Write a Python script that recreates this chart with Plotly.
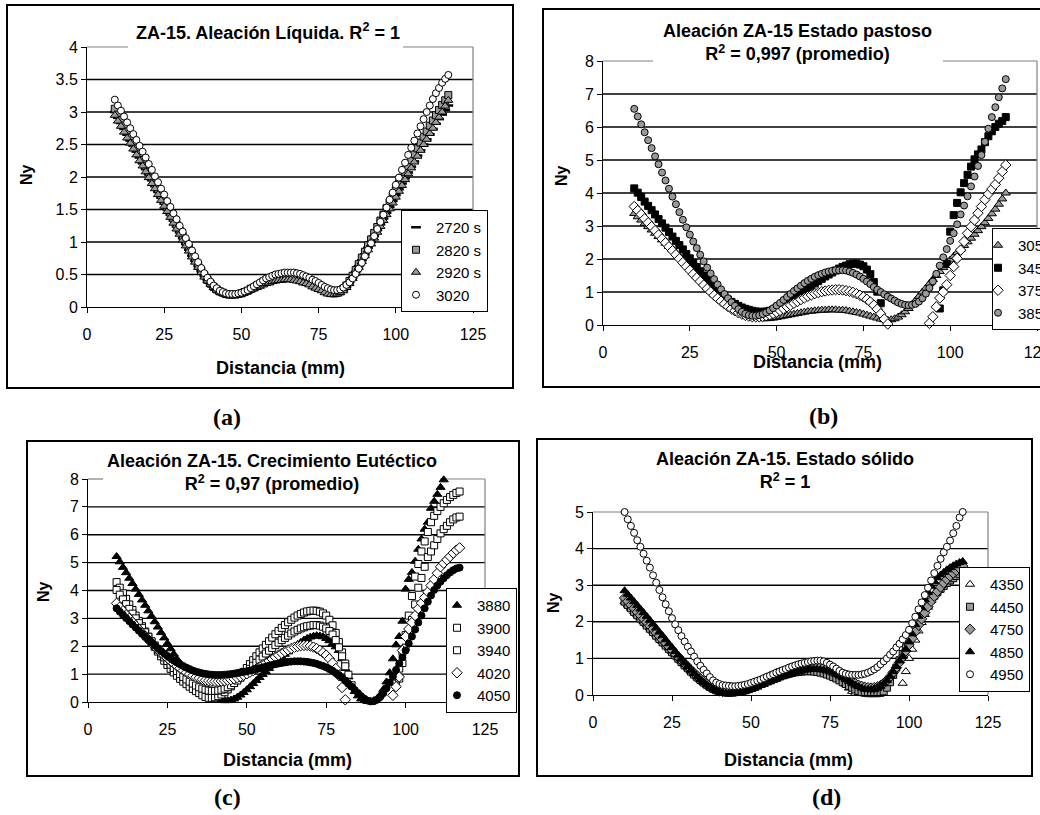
import plotly.graph_objects as go

W, H = 1040, 815
FONT = "Liberation Sans, Arial, sans-serif"
SERIF = "Liberation Serif, Times New Roman, serif"

# ---------------- data ----------------
X_TICKS = [0, 25, 50, 75, 100, 125]
Y_TICKS_A = [0, 0.5, 1, 1.5, 2, 2.5, 3, 3.5, 4]
Y_TICKS_B = [0, 1, 2, 3, 4, 5, 6, 7, 8]
Y_TICKS_C = [0, 1, 2, 3, 4, 5, 6, 7, 8]
Y_TICKS_D = [0, 1, 2, 3, 4, 5]

X_A = [9, 10, 11, 12, 13, 14, 15, 16, 17, 18, 19, 20, 21, 22, 23, 24, 25, 26, 27, 28,
       29, 30, 31, 32, 33, 34, 35, 36, 37, 38, 39, 40, 41, 42, 43, 44, 45, 46, 47, 48,
       49, 50, 51, 52, 53, 54, 55, 56, 57, 58, 59, 60, 61, 62, 63, 64, 65, 66, 67, 68,
       69, 70, 71, 72, 73, 74, 75, 76, 77, 78, 79, 80, 81, 82, 83, 84, 85, 86, 87, 88,
       89, 90, 91, 92, 93, 94, 95, 96, 97, 98, 99, 100, 101, 102, 103, 104, 105, 106, 107, 108,
       109, 110, 111, 112, 113, 114, 115, 116, 117]
X_B = [9, 10, 11, 12, 13, 14, 15, 16, 17, 18, 19, 20, 21, 22, 23, 24, 25, 26, 27, 28,
       29, 30, 31, 32, 33, 34, 35, 36, 37, 38, 39, 40, 41, 42, 43, 44, 45, 46, 47, 48,
       49, 50, 51, 52, 53, 54, 55, 56, 57, 58, 59, 60, 61, 62, 63, 64, 65, 66, 67, 68,
       69, 70, 71, 72, 73, 74, 75, 76, 77, 78, 79, 80, 81, 82, 83, 84, 85, 86, 87, 88,
       89, 90, 91, 92, 93, 94, 95, 96, 97, 98, 99, 100, 101, 102, 103, 104, 105, 106, 107, 108,
       109, 110, 111, 112, 113, 114, 115, 116]
X_C = X_A
X_D = [10, 11, 12, 13, 14, 15, 16, 17, 18, 19, 20, 21, 22, 23, 24, 25, 26, 27, 28, 29,
       30, 31, 32, 33, 34, 35, 36, 37, 38, 39, 40, 41, 42, 43, 44, 45, 46, 47, 48, 49,
       50, 51, 52, 53, 54, 55, 56, 57, 58, 59, 60, 61, 62, 63, 64, 65, 66, 67, 68, 69,
       70, 71, 72, 73, 74, 75, 76, 77, 78, 79, 80, 81, 82, 83, 84, 85, 86, 87, 88, 89,
       90, 91, 92, 93, 94, 95, 96, 97, 98, 99, 100, 101, 102, 103, 104, 105, 106, 107, 108, 109,
       110, 111, 112, 113, 114, 115, 116, 117]

N = None

# (a) liquid alloy
A_2720 = [3.00, 2.91, 2.83, 2.74, 2.65, 2.56, 2.48, 2.39, 2.30, 2.21,
          2.12, 2.04, 1.95, 1.86, 1.77, 1.68, 1.59, 1.50, 1.42, 1.33,
          1.24, 1.15, 1.06, 0.97, 0.88, 0.79, 0.71, 0.63, 0.55, 0.48,
          0.41, 0.36, 0.31, 0.27, 0.24, 0.21, 0.20, 0.19, 0.18, 0.19,
          0.19, 0.21, 0.22, 0.24, 0.27, 0.29, 0.31, 0.34, 0.36, 0.38,
          0.39, 0.41, 0.42, 0.43, 0.44, 0.45, 0.45, 0.45, 0.44, 0.43,
          0.42, 0.40, 0.38, 0.36, 0.33, 0.31, 0.28, 0.26, 0.24, 0.22,
          0.20, 0.20, 0.21, 0.23, 0.26, 0.31, 0.38, 0.45, 0.54, 0.63,
          0.72, 0.81, 0.91, 1.00, 1.09, 1.18, 1.27, 1.36, 1.45, 1.54,
          1.63, 1.72, 1.81, 1.90, 1.98, 2.07, 2.16, 2.24, 2.33, 2.41,
          2.50, 2.58, 2.66, 2.74, 2.82, 2.89, 2.96, 3.03, 3.10]
A_2820 = [3.05, 2.96, 2.88, 2.79, 2.70, 2.61, 2.52, 2.44, 2.35, 2.26,
          2.17, 2.08, 1.99, 1.90, 1.81, 1.72, 1.63, 1.54, 1.45, 1.36,
          1.27, 1.18, 1.09, 1.00, 0.91, 0.82, 0.73, 0.64, 0.56, 0.49,
          0.42, 0.36, 0.31, 0.27, 0.24, 0.22, 0.20, 0.19, 0.19, 0.19,
          0.20, 0.21, 0.23, 0.25, 0.28, 0.30, 0.33, 0.35, 0.38, 0.40,
          0.42, 0.44, 0.45, 0.46, 0.47, 0.48, 0.48, 0.48, 0.47, 0.46,
          0.45, 0.43, 0.41, 0.38, 0.36, 0.33, 0.31, 0.28, 0.26, 0.24,
          0.22, 0.21, 0.22, 0.24, 0.28, 0.33, 0.40, 0.48, 0.57, 0.66,
          0.76, 0.85, 0.95, 1.04, 1.14, 1.23, 1.33, 1.42, 1.52, 1.61,
          1.71, 1.80, 1.90, 1.99, 2.08, 2.17, 2.26, 2.35, 2.44, 2.53,
          2.62, 2.70, 2.79, 2.87, 2.95, 3.03, 3.11, 3.18, 3.26]
A_2920 = [2.95, 2.86, 2.78, 2.69, 2.60, 2.52, 2.43, 2.34, 2.25, 2.17,
          2.08, 1.99, 1.90, 1.82, 1.73, 1.64, 1.55, 1.47, 1.38, 1.29,
          1.20, 1.12, 1.03, 0.94, 0.86, 0.77, 0.69, 0.61, 0.53, 0.46,
          0.40, 0.35, 0.30, 0.26, 0.23, 0.21, 0.19, 0.18, 0.18, 0.18,
          0.19, 0.20, 0.22, 0.24, 0.26, 0.28, 0.30, 0.32, 0.34, 0.36,
          0.37, 0.39, 0.40, 0.41, 0.41, 0.42, 0.42, 0.42, 0.41, 0.40,
          0.39, 0.37, 0.36, 0.34, 0.31, 0.29, 0.27, 0.25, 0.22, 0.20,
          0.19, 0.19, 0.20, 0.22, 0.25, 0.30, 0.36, 0.44, 0.52, 0.61,
          0.70, 0.79, 0.88, 0.97, 1.06, 1.15, 1.24, 1.33, 1.42, 1.51,
          1.60, 1.69, 1.78, 1.87, 1.96, 2.05, 2.14, 2.23, 2.32, 2.41,
          2.50, 2.58, 2.67, 2.75, 2.84, 2.92, 3.00, 3.09, 3.18]
A_3020 = [3.19, 3.10, 3.02, 2.93, 2.84, 2.75, 2.66, 2.57, 2.48, 2.39,
          2.30, 2.20, 2.11, 2.01, 1.92, 1.82, 1.73, 1.63, 1.54, 1.44,
          1.35, 1.25, 1.16, 1.06, 0.97, 0.87, 0.78, 0.69, 0.60, 0.52,
          0.45, 0.39, 0.33, 0.29, 0.25, 0.23, 0.21, 0.20, 0.20, 0.20,
          0.21, 0.22, 0.24, 0.26, 0.29, 0.32, 0.35, 0.38, 0.41, 0.44,
          0.46, 0.48, 0.50, 0.51, 0.52, 0.53, 0.53, 0.53, 0.53, 0.52,
          0.51, 0.49, 0.47, 0.45, 0.42, 0.40, 0.37, 0.34, 0.31, 0.29,
          0.27, 0.26, 0.26, 0.27, 0.30, 0.34, 0.38, 0.44, 0.51, 0.59,
          0.68, 0.78, 0.88, 0.98, 1.09, 1.20, 1.31, 1.42, 1.53, 1.65,
          1.76, 1.88, 1.99, 2.11, 2.22, 2.34, 2.45, 2.56, 2.67, 2.78,
          2.89, 3.00, 3.10, 3.20, 3.29, 3.37, 3.45, 3.51, 3.57]

# (b) mushy state
B_3050 = [3.38, 3.28, 3.18, 3.08, 2.98, 2.88, 2.78, 2.68, 2.58, 2.48,
          2.38, 2.28, 2.18, 2.08, 1.98, 1.88, 1.78, 1.67, 1.56, 1.45,
          1.34, 1.23, 1.12, 1.01, 0.90, 0.80, 0.71, 0.62, 0.54, 0.47,
          0.41, 0.36, 0.31, 0.27, 0.24, 0.22, 0.20, 0.19, 0.19, 0.20,
          0.21, 0.23, 0.25, 0.27, 0.29, 0.31, 0.33, 0.35, 0.37, 0.39,
          0.41, 0.42, 0.43, 0.44, 0.45, 0.45, 0.46, 0.46, 0.46, 0.45,
          0.45, 0.44, 0.42, 0.40, 0.38, 0.36, 0.33, 0.30, 0.27, 0.24,
          0.21, 0.18, 0.16, 0.15, 0.16, 0.19, 0.24, 0.31, 0.40, 0.50,
          0.62, 0.74, 0.87, 1.00, 1.12, 1.25, 1.38, 1.50, 1.62, 1.74,
          1.86, 1.97, 2.08, 2.19, 2.30, 2.41, 2.52, 2.63, 2.75, 2.86,
          2.98, 3.10, 3.23, 3.37, 3.51, 3.66, 3.82, 4.00]
B_3450 = [4.14, 4.01, 3.88, 3.74, 3.61, 3.48, 3.35, 3.21, 3.08, 2.95,
          2.82, 2.68, 2.55, 2.42, 2.29, 2.15, 2.02, 1.89, 1.76, 1.63,
          1.50, 1.38, 1.26, 1.15, 1.04, 0.94, 0.85, 0.77, 0.70, 0.64,
          0.58, 0.53, 0.49, 0.46, 0.43, 0.41, 0.40, 0.40, 0.41, 0.43,
          0.46, 0.50, 0.55, 0.61, 0.68, 0.75, 0.82, 0.90, 0.97, 1.05,
          1.12, 1.19, 1.26, 1.33, 1.40, 1.47, 1.53, 1.59, 1.65, 1.71,
          1.76, 1.80, 1.84, 1.86, 1.86, 1.83, 1.78, 1.68, 1.54, 1.30,
          1.01, 0.66, N, N, N, N, N, N, N, N,
          N, N, N, N, N, N, N, N, 0.50, 1.05,
          1.85, 2.83, 3.33, 3.70, 4.02, 4.30, 4.55, 4.80, 5.02, 5.17,
          5.32, 5.54, 5.72, 5.87, 6.00, 6.10, 6.18, 6.30]
B_3750 = [3.59, 3.47, 3.35, 3.22, 3.10, 2.98, 2.86, 2.73, 2.61, 2.49,
          2.37, 2.25, 2.13, 2.01, 1.89, 1.77, 1.66, 1.54, 1.43, 1.32,
          1.21, 1.10, 1.00, 0.90, 0.81, 0.72, 0.64, 0.56, 0.49, 0.43,
          0.37, 0.33, 0.29, 0.27, 0.25, 0.25, 0.25, 0.26, 0.28, 0.31,
          0.35, 0.39, 0.44, 0.49, 0.55, 0.60, 0.66, 0.71, 0.77, 0.82,
          0.87, 0.91, 0.95, 0.98, 1.01, 1.03, 1.05, 1.06, 1.07, 1.07,
          1.06, 1.04, 1.02, 0.99, 0.95, 0.90, 0.85, 0.78, 0.70, 0.60,
          0.48, 0.34, 0.18, 0.03, N, N, N, N, N, N,
          N, N, N, N, N, 0.05, 0.25, 0.55, 0.82, 1.00,
          1.22, 1.50, 1.77, 2.02, 2.27, 2.53, 2.78, 2.98, 3.18, 3.39,
          3.59, 3.80, 3.97, 4.12, 4.26, 4.45, 4.65, 4.85]
B_3850 = [6.55, 6.32, 6.08, 5.84, 5.60, 5.36, 5.11, 4.87, 4.62, 4.38,
          4.13, 3.89, 3.66, 3.42, 3.19, 2.96, 2.74, 2.53, 2.33, 2.13,
          1.93, 1.74, 1.56, 1.39, 1.23, 1.08, 0.94, 0.81, 0.69, 0.58,
          0.48, 0.40, 0.34, 0.30, 0.28, 0.28, 0.30, 0.33, 0.38, 0.44,
          0.51, 0.59, 0.67, 0.76, 0.85, 0.94, 1.03, 1.11, 1.19, 1.27,
          1.34, 1.40, 1.46, 1.51, 1.55, 1.59, 1.62, 1.64, 1.66, 1.66,
          1.66, 1.65, 1.62, 1.58, 1.53, 1.47, 1.40, 1.32, 1.24, 1.15,
          1.07, 1.00, 0.93, 0.86, 0.80, 0.74, 0.68, 0.64, 0.61, 0.60,
          0.61, 0.64, 0.71, 0.81, 0.95, 1.12, 1.32, 1.55, 1.80, 2.05,
          2.30, 2.55, 2.78, 3.05, 3.35, 3.62, 3.90, 4.20, 4.50, 4.82,
          5.15, 5.55, 5.95, 6.30, 6.60, 6.90, 7.17, 7.45]

# (c) eutectic growth
C_3880 = [5.22, 5.03, 4.83, 4.64, 4.44, 4.25, 4.05, 3.86, 3.66, 3.47,
          3.27, 3.08, 2.88, 2.69, 2.49, 2.30, 2.10, 1.91, 1.72, 1.54,
          1.37, 1.21, 1.06, 0.92, 0.79, 0.67, 0.56, 0.46, 0.37, 0.29,
          0.22, 0.16, 0.11, 0.07, 0.05, 0.05, 0.07, 0.11, 0.17, 0.25,
          0.34, 0.44, 0.55, 0.66, 0.77, 0.88, 0.99, 1.09, 1.20, 1.31,
          1.42, 1.52, 1.62, 1.71, 1.80, 1.89, 1.98, 2.06, 2.14, 2.22,
          2.28, 2.33, 2.36, 2.38, 2.37, 2.34, 2.28, 2.20, 2.10, 1.98,
          1.85, 1.55, 1.20, 0.90, 0.60, 0.38, 0.22, 0.11, 0.05, 0.02,
          0.02, 0.05, 0.12, 0.25, 0.45, 0.72, 1.05, 1.55, 2.05, 2.35,
          2.90, 4.05, 4.40, 4.65, 5.05, 5.48, 5.85, 6.20, 6.45, 6.95,
          7.20, 7.45, 7.70, 7.97, N, N, N, N, N]
C_3900 = [4.30, 4.10, 3.90, 3.70, 3.50, 3.30, 3.10, 2.91, 2.72, 2.53,
          2.34, 2.16, 1.98, 1.81, 1.64, 1.48, 1.33, 1.19, 1.06, 0.94,
          0.83, 0.73, 0.64, 0.55, 0.47, 0.39, 0.32, 0.24, 0.18, 0.15,
          0.15, 0.17, 0.21, 0.27, 0.35, 0.45, 0.56, 0.68, 0.81, 0.95,
          1.08, 1.22, 1.36, 1.50, 1.64, 1.78, 1.92, 2.05, 2.18, 2.31,
          2.43, 2.55, 2.66, 2.76, 2.86, 2.95, 3.03, 3.10, 3.16, 3.21,
          3.25, 3.27, 3.28, 3.27, 3.24, 3.18, 3.10, 2.95, 2.75, 2.48,
          2.15, 1.78, 1.38, 0.98, 0.60, N, N, N, N, N,
          N, N, N, N, N, N, N, N, 0.66, 1.20,
          1.80, 2.40, 3.10, 3.80, 4.50, 4.95, 5.40, 5.76, 6.10, 6.45,
          6.68, 6.85, 7.00, 7.13, 7.25, 7.35, 7.43, 7.50, 7.55]
C_3940 = [4.02, 3.85, 3.68, 3.51, 3.34, 3.17, 3.00, 2.83, 2.66, 2.50,
          2.34, 2.18, 2.03, 1.88, 1.74, 1.60, 1.47, 1.34, 1.22, 1.11,
          1.00, 0.90, 0.81, 0.73, 0.66, 0.59, 0.53, 0.48, 0.44, 0.41,
          0.40, 0.40, 0.41, 0.44, 0.48, 0.53, 0.60, 0.68, 0.77, 0.87,
          0.97, 1.08, 1.19, 1.30, 1.41, 1.52, 1.63, 1.74, 1.84, 1.94,
          2.04, 2.13, 2.22, 2.30, 2.38, 2.46, 2.53, 2.59, 2.64, 2.68,
          2.72, 2.74, 2.76, 2.76, 2.74, 2.70, 2.64, 2.55, 2.42, 2.22,
          1.96, 1.64, 1.28, N, N, N, N, N, N, N,
          N, N, N, N, N, N, N, N, N, 0.84,
          1.40, 1.95, 2.50, 2.94, 3.50, 4.10, 4.45, 4.85, 5.20, 5.40,
          5.62, 5.85, 6.05, 6.20, 6.32, 6.45, 6.55, 6.62, 6.65]
C_4020 = [3.54, 3.40, 3.27, 3.13, 3.00, 2.87, 2.74, 2.61, 2.48, 2.36,
          2.24, 2.12, 2.00, 1.89, 1.78, 1.67, 1.57, 1.47, 1.38, 1.29,
          1.21, 1.13, 1.06, 1.00, 0.94, 0.89, 0.85, 0.81, 0.78, 0.76,
          0.75, 0.74, 0.74, 0.75, 0.76, 0.78, 0.80, 0.83, 0.87, 0.91,
          0.96, 1.01, 1.07, 1.13, 1.19, 1.26, 1.33, 1.40, 1.47, 1.54,
          1.61, 1.68, 1.75, 1.81, 1.87, 1.92, 1.96, 1.99, 2.02, 2.03,
          2.03, 2.01, 1.97, 1.92, 1.85, 1.77, 1.68, 1.55, 1.40, 1.20,
          0.95, 0.52, 0.08, N, N, N, N, N, N, N,
          N, N, N, N, N, N, N, 0.24, 0.55, 0.90,
          1.85, 2.35, 2.62, 2.85, 3.10, 3.35, 3.55, 3.75, 3.95, 4.18,
          4.40, 4.62, 4.85, 4.98, 5.10, 5.22, 5.34, 5.45, 5.53]
C_4050 = [3.36, 3.24, 3.13, 3.01, 2.90, 2.78, 2.67, 2.56, 2.45, 2.34,
          2.23, 2.13, 2.03, 1.93, 1.83, 1.74, 1.65, 1.57, 1.49, 1.42,
          1.35, 1.29, 1.23, 1.18, 1.13, 1.09, 1.06, 1.03, 1.01, 0.99,
          0.98, 0.97, 0.97, 0.97, 0.98, 0.99, 1.00, 1.02, 1.04, 1.06,
          1.08, 1.10, 1.13, 1.15, 1.18, 1.21, 1.24, 1.27, 1.30, 1.33,
          1.36, 1.38, 1.40, 1.42, 1.44, 1.45, 1.46, 1.46, 1.46, 1.45,
          1.44, 1.42, 1.40, 1.37, 1.33, 1.29, 1.24, 1.18, 1.12, 1.04,
          0.96, 0.87, 0.77, 0.66, 0.55, 0.43, 0.32, 0.21, 0.12, 0.05,
          0.02, 0.03, 0.08, 0.18, 0.32, 0.50, 0.70, 0.92, 1.15, 1.38,
          1.60, 1.85, 2.10, 2.35, 2.60, 2.85, 3.10, 3.36, 3.60, 3.82,
          4.02, 4.18, 4.32, 4.44, 4.55, 4.65, 4.73, 4.79, 4.82]

# (d) solid state
D_4350 = [2.55, 2.46, 2.37, 2.28, 2.19, 2.10, 2.01, 1.92, 1.83, 1.74,
          1.64, 1.55, 1.46, 1.37, 1.28, 1.19, 1.10, 1.01, 0.92, 0.83,
          0.74, 0.65, 0.57, 0.49, 0.41, 0.34, 0.27, 0.21, 0.16, 0.12,
          0.08, 0.06, 0.04, 0.03, 0.03, 0.04, 0.05, 0.07, 0.09, 0.12,
          0.15, 0.18, 0.22, 0.26, 0.30, 0.34, 0.38, 0.42, 0.46, 0.50,
          0.54, 0.57, 0.60, 0.63, 0.66, 0.68, 0.70, 0.71, 0.72, 0.73,
          0.73, 0.72, 0.71, 0.69, 0.66, 0.62, 0.58, 0.53, 0.46, 0.38,
          0.29, 0.19, 0.10, 0.05, 0.04, 0.06, N, N, N, N,
          N, N, N, N, N, N, N, N, 0.32, 0.64,
          1.00, 1.25, 1.50, 1.75, 1.98, 2.20, 2.40, 2.58, 2.73, 2.86,
          2.97, 3.06, 3.14, 3.21, 3.27, 3.32, 3.36, 3.40]
D_4450 = [2.55, 2.46, 2.37, 2.27, 2.18, 2.09, 2.00, 1.90, 1.81, 1.72,
          1.62, 1.53, 1.44, 1.35, 1.26, 1.17, 1.08, 0.99, 0.90, 0.81,
          0.73, 0.64, 0.56, 0.48, 0.41, 0.34, 0.28, 0.22, 0.17, 0.13,
          0.10, 0.08, 0.07, 0.06, 0.07, 0.08, 0.10, 0.12, 0.15, 0.18,
          0.21, 0.24, 0.28, 0.31, 0.35, 0.38, 0.42, 0.45, 0.48, 0.51,
          0.54, 0.56, 0.58, 0.60, 0.62, 0.63, 0.64, 0.65, 0.65, 0.65,
          0.64, 0.63, 0.61, 0.59, 0.56, 0.53, 0.49, 0.45, 0.40, 0.35,
          0.30, 0.25, 0.20, 0.15, 0.11, 0.08, 0.06, 0.05, 0.05, 0.05,
          0.05, 0.06, 0.10, 0.20, 0.35, 0.55, 0.75, 0.95, 1.12, 1.30,
          1.50, 1.70, 1.88, 2.05, 2.20, 2.35, 2.48, 2.60, 2.71, 2.81,
          2.90, 2.98, 3.06, 3.13, 3.19, 3.25, 3.30, 3.35]
D_4750 = [2.65, 2.56, 2.46, 2.37, 2.27, 2.18, 2.08, 1.99, 1.89, 1.80,
          1.70, 1.61, 1.51, 1.42, 1.32, 1.23, 1.13, 1.04, 0.95, 0.86,
          0.77, 0.68, 0.60, 0.52, 0.44, 0.37, 0.30, 0.24, 0.19, 0.15,
          0.12, 0.10, 0.09, 0.09, 0.10, 0.11, 0.13, 0.16, 0.19, 0.22,
          0.26, 0.30, 0.34, 0.38, 0.42, 0.46, 0.50, 0.54, 0.58, 0.61,
          0.64, 0.67, 0.70, 0.72, 0.74, 0.76, 0.77, 0.78, 0.79, 0.79,
          0.79, 0.78, 0.77, 0.75, 0.72, 0.69, 0.65, 0.61, 0.56, 0.51,
          0.46, 0.41, 0.36, 0.31, 0.27, 0.24, 0.21, 0.20, 0.19, 0.20,
          0.22, 0.26, 0.32, 0.40, 0.50, 0.62, 0.75, 0.89, 1.04, 1.20,
          1.37, 1.55, 1.73, 1.91, 2.08, 2.25, 2.41, 2.56, 2.70, 2.83,
          2.95, 3.06, 3.16, 3.25, 3.33, 3.40, 3.46, 3.52]
D_4850 = [2.85, 2.75, 2.65, 2.55, 2.45, 2.35, 2.25, 2.15, 2.04, 1.94,
          1.83, 1.72, 1.62, 1.51, 1.40, 1.30, 1.19, 1.09, 0.98, 0.88,
          0.78, 0.68, 0.59, 0.50, 0.42, 0.35, 0.28, 0.22, 0.17, 0.13,
          0.09, 0.07, 0.05, 0.04, 0.04, 0.05, 0.06, 0.08, 0.10, 0.13,
          0.16, 0.19, 0.22, 0.26, 0.29, 0.33, 0.36, 0.40, 0.43, 0.47,
          0.50, 0.53, 0.56, 0.59, 0.62, 0.64, 0.66, 0.68, 0.69, 0.70,
          0.70, 0.70, 0.69, 0.68, 0.66, 0.63, 0.60, 0.56, 0.52, 0.47,
          0.42, 0.37, 0.32, 0.27, 0.23, 0.19, 0.16, 0.15, 0.15, 0.16,
          0.19, 0.24, 0.31, 0.40, 0.51, 0.64, 0.78, 0.93, 1.05, 1.25,
          1.45, 1.67, 1.92, 2.15, 2.38, 2.60, 2.80, 2.97, 3.10, 3.20,
          3.28, 3.35, 3.42, 3.48, 3.53, 3.58, 3.62, 3.65]
D_4950 = [5.00, 4.80, 4.62, 4.43, 4.23, 4.05, 3.86, 3.67, 3.48, 3.27,
          3.07, 2.87, 2.67, 2.48, 2.29, 2.10, 1.93, 1.77, 1.61, 1.46,
          1.32, 1.19, 1.05, 0.92, 0.80, 0.69, 0.59, 0.49, 0.40, 0.34,
          0.30, 0.27, 0.26, 0.25, 0.24, 0.24, 0.25, 0.26, 0.28, 0.30,
          0.33, 0.36, 0.39, 0.42, 0.46, 0.50, 0.53, 0.57, 0.61, 0.64,
          0.68, 0.71, 0.75, 0.78, 0.81, 0.84, 0.86, 0.88, 0.90, 0.92,
          0.93, 0.94, 0.94, 0.92, 0.88, 0.83, 0.78, 0.72, 0.66, 0.61,
          0.58, 0.56, 0.55, 0.55, 0.55, 0.56, 0.58, 0.61, 0.65, 0.70,
          0.76, 0.84, 0.92, 1.00, 1.10, 1.19, 1.30, 1.40, 1.52, 1.64,
          1.78, 1.96, 2.14, 2.34, 2.53, 2.73, 2.93, 3.13, 3.33, 3.53,
          3.72, 3.90, 4.05, 4.22, 4.42, 4.62, 4.85, 5.00]

# ---------------- styles ----------------
GRAY = "#999999"
BORDER_GRAY = "#808080"

PANELS = [
    dict(ax="", legend="legend", x=X_A, yticks=Y_TICKS_A,
         plot=(87, 473, 47, 307), frame=(7, 513, 5, 388), gap=(128, 403),
         leg=(401, 210, "left", -6),
         title="ZA-15. Aleación Líquida. R<sup>2</sup> = 1", title_xy=(268, 31),
         xt_xy=(280, 368), yt_xy=(27, 175), label="(a)", label_xy=(227, 417),
         series=[("2720 s", A_2720, "line-ew", "black", 7),
                 ("2820 s", A_2820, "square", GRAY, 7),
                 ("2920 s", A_2920, "triangle-up", GRAY, 8),
                 ("3020", A_3020, "circle", "white", 7)]),
    dict(ax="2", legend="legend2", x=X_B, yticks=Y_TICKS_B,
         plot=(603, 1037, 61, 325), frame=(543, 1048, 9, 387), gap=(653, 943),
         leg=(992, 228, "left", -15),
         title="Aleación ZA-15 Estado pastoso<br>R<sup>2</sup> = 0,997 (promedio)",
         title_xy=(797, 42),
         xt_xy=(817, 362), yt_xy=(562, 176), label="(b)", label_xy=(823, 416),
         series=[("3050", B_3050, "triangle-up", GRAY, 8),
                 ("3450", B_3450, "square", "black", 7),
                 ("3750", B_3750, "diamond", "white", 8),
                 ("3850", B_3850, "circle", GRAY, 7)]),
    dict(ax="3", legend="legend3", x=X_C, yticks=Y_TICKS_C,
         plot=(88, 485, 479, 702), frame=(27, 519, 441, 776), gap=(103, 440),
         leg=(517, 588, "right", -10),
         title="Aleación ZA-15. Crecimiento Eutéctico<br>R<sup>2</sup> = 0,97 (promedio)",
         title_xy=(272, 472),
         xt_xy=(287, 760), yt_xy=(43, 592), label="(c)", label_xy=(227, 797),
         series=[("3880", C_3880, "triangle-up", "black", 8),
                 ("3900", C_3900, "square", "white", 7),
                 ("3940", C_3940, "square", "white", 7),
                 ("4020", C_4020, "diamond", "white", 8),
                 ("4050", C_4050, "circle", "black", 7)]),
    dict(ax="4", legend="legend4", x=X_D, yticks=Y_TICKS_D,
         plot=(593, 988, 512, 695), frame=(537, 1032, 439, 776), gap=None,
         leg=(1030, 567, "right", -10),
         title="Aleación ZA-15. Estado sólido<br>R<sup>2</sup> = 1", title_xy=(785, 470),
         xt_xy=(788, 760), yt_xy=(553, 603), label="(d)", label_xy=(826, 797),
         series=[("4350", D_4350, "triangle-up", "white", 8),
                 ("4450", D_4450, "square", GRAY, 7),
                 ("4750", D_4750, "diamond", GRAY, 8),
                 ("4850", D_4850, "triangle-up", "black", 8),
                 ("4950", D_4950, "circle", "white", 7)]),
]


def px(x):
    return x / W


def py(y):
    return 1 - y / H


fig = go.Figure()
layout = dict(width=W, height=H, margin=dict(l=0, r=0, t=0, b=0, autoexpand=False),
              paper_bgcolor="white", plot_bgcolor="white", showlegend=True,
              font=dict(family=FONT, color="black"))
shapes = []
annotations = []

for p in PANELS:
    ax = p["ax"]
    xa, ya = "x" + ax, "y" + ax
    x0, x1, y0, y1 = p["plot"]
    for name, vals, sym, fill, size in p["series"]:
        assert len(vals) == len(p["x"]), (name, len(vals), len(p["x"]))
        line_w = 2.5 if sym == "line-ew" else 1
        fig.add_trace(go.Scatter(
            x=p["x"], y=vals, mode="markers", name=name, xaxis=xa, yaxis=ya,
            legend=p["legend"], cliponaxis=False,
            marker=dict(symbol=sym, size=size, color=fill,
                        line=dict(color="black", width=line_w))))
    yt = p["yticks"]
    layout["xaxis" + ax] = dict(
        domain=[px(x0), px(x1)], range=[0, 125], tickvals=X_TICKS, anchor=ya,
        ticks="outside", ticklen=5, tickcolor="black", tickwidth=1,
        showline=True, linecolor="black", linewidth=1, showgrid=False, zeroline=False,
        tickfont=dict(size=16, family=FONT, color="black"), ticklabelstandoff=8,
        ticklabeloverflow="allow", fixedrange=True)
    layout["yaxis" + ax] = dict(
        domain=[py(y1), py(y0)], range=[yt[0], yt[-1]], tickvals=yt, anchor=xa,
        ticks="outside", ticklen=5, tickcolor="black", tickwidth=1,
        showline=True, linecolor="black", linewidth=1, showgrid=False, zeroline=False,
        tickfont=dict(size=16, family=FONT, color="black"), fixedrange=True)
    lx, ly, lanchor, lind = p["leg"]
    layout[p["legend"]] = dict(
        x=px(lx), y=py(ly), xanchor=lanchor, yanchor="top", bgcolor="white",
        bordercolor="black", borderwidth=1, tracegroupgap=0, indentation=lind,
        font=dict(size=15, family=FONT, color="black"))
    # horizontal gridlines (black) at interior ticks
    for v in yt[1:-1]:
        shapes.append(dict(type="line", xref=xa + " domain", yref=ya,
                           x0=0, x1=1, y0=v, y1=v, line=dict(color="black", width=1.4),
                           layer="below"))
    # gray plot-area border (right and top)
    shapes.append(dict(type="line", xref=xa + " domain", yref=ya + " domain",
                       x0=1, x1=1, y0=0, y1=1, line=dict(color=BORDER_GRAY, width=1.2),
                       layer="below"))
    if p["gap"] is None:
        segs = [(x0, x1)]
    else:
        segs = [(x0, p["gap"][0]), (p["gap"][1], x1)]
    for a, b in segs:
        shapes.append(dict(type="line", xref="paper", yref=ya + " domain",
                           x0=px(a), x1=px(b), y0=1, y1=1,
                           line=dict(color=BORDER_GRAY, width=1.2), layer="below"))
    # panel frame
    fx0, fx1, fy0, fy1 = p["frame"]
    shapes.append(dict(type="rect", xref="paper", yref="paper",
                       x0=px(fx0), x1=px(fx1), y0=py(fy1), y1=py(fy0),
                       line=dict(color="black", width=2), fillcolor="rgba(0,0,0,0)"))
    # texts
    tx, ty = p["title_xy"]
    annotations.append(dict(text="<b>" + p["title"] + "</b>", x=px(tx), y=py(ty),
                            xref="paper", yref="paper", showarrow=False,
                            xanchor="center", yanchor="middle",
                            font=dict(size=18, family=FONT, color="black")))
    ax_, ay_ = p["xt_xy"]
    annotations.append(dict(text="<b>Distancia (mm)</b>", x=px(ax_), y=py(ay_),
                            xref="paper", yref="paper", showarrow=False,
                            xanchor="center", yanchor="middle",
                            font=dict(size=18, family=FONT, color="black")))
    bx, by = p["yt_xy"]
    annotations.append(dict(text="<b>Ny</b>", x=px(bx), y=py(by), textangle=-90,
                            xref="paper", yref="paper", showarrow=False,
                            xanchor="center", yanchor="middle",
                            font=dict(size=16, family=FONT, color="black")))
    cx, cy = p["label_xy"]
    annotations.append(dict(text="<b>" + p["label"] + "</b>", x=px(cx), y=py(cy),
                            xref="paper", yref="paper", showarrow=False,
                            xanchor="center", yanchor="middle",
                            font=dict(size=24, family=SERIF, color="black")))

layout["shapes"] = shapes
layout["annotations"] = annotations
fig.update_layout(**layout)
fig.write_html("out.html", config={"displayModeBar": False, "staticPlot": True})
